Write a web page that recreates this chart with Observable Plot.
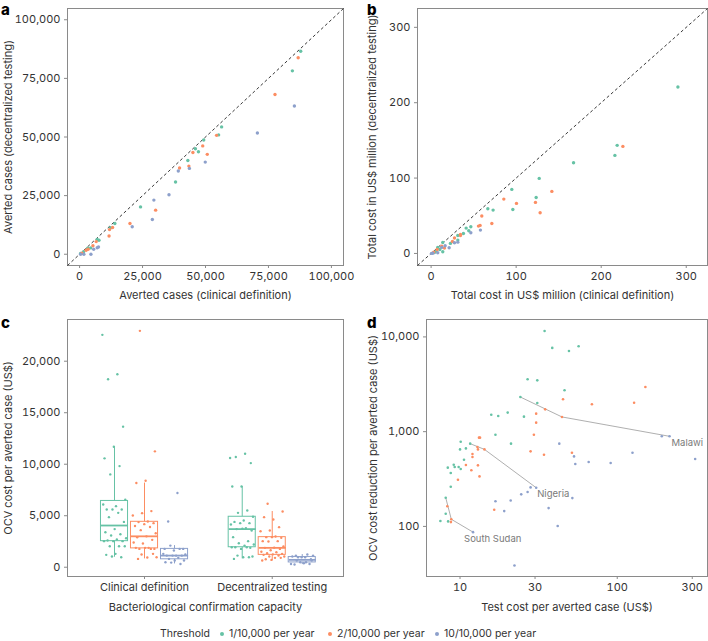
<!DOCTYPE html>
<html><head><meta charset="utf-8">
<script src="https://cdn.jsdelivr.net/npm/d3@7"></script>
<script src="https://cdn.jsdelivr.net/npm/@observablehq/plot@0.6"></script>
<style>
body{margin:0;background:#fff;font-family:Inter,"Noto Sans",sans-serif;}
#fig{position:relative;width:708px;height:641px;overflow:hidden;background:#fff;}
.panel{position:absolute;}
.tag{position:absolute;font-weight:800;font-size:15px;line-height:15px;color:#000;font-family:Inter,sans-serif;}
#legend{position:absolute;left:0;top:628px;width:708px;height:12px;font-size:10.5px;line-height:12px;color:#333;}
#legend span{position:absolute;top:0;white-space:nowrap;}
#legend i{position:absolute;width:4px;height:4px;border-radius:50%;top:4px;}
</style></head>
<body><div id="fig"></div>
<script>
const thresholds = ["1/10,000 per year", "2/10,000 per year", "10/10,000 per year"];
const colors = ["#66c2a5", "#fc8d62", "#8da0cb"];

// ---- Panel a: averted cases (clinical definition vs decentralized testing)
const aClinical1 = [87800,84500,56400,55200,49300,46000,47200,43000,38100,24200,14000,12200,7700,7000,4400,3200,1600,400];
const aDecentral1 = [86600,78200,54300,50900,48700,45000,43700,40000,30800,20200,13100,11300,6000,6300,2700,2600,1100,300];
const aClinical2 = [86800,77600,54400,48900,45000,50700,39700,43400,30200,20000,13100,11900,11700,6600,5300,3400,2600,900];
const aDecentral2 = [83800,68100,50700,46200,43400,42600,36800,37600,18800,13100,11400,10500,7800,5400,3600,2100,1700,400];
const aClinical10 = [85300,70600,49900,39200,43600,35500,29500,28900,20900,7500,7000,5600,4500,1700,400];
const aDecentral10 = [63200,51700,39300,35500,36600,25400,23100,14800,11700,3100,2800,2100,0,0,0];
const aTicks = [0, 25000, 50000, 75000, 100000];
const aDomain = [-4800, 104800];

// ---- Panel b: total cost in US$ million
const bClinical1 = [290.2,218.8,216.1,167.5,127.1,123.5,94.9,96.1,66.7,72.9,46.7,41.2,44.3,38.0,31.4,31.4,22.7,13.7,13.7,10.2,7.8,5.9,3.9];
const bDecentral1 = [220.8,143.4,130.1,120.4,99.6,74.3,85.0,58.4,59.3,57.5,35.4,33.6,30.1,26.5,23.9,17.7,13.3,14.6,2.2,5.3,8.0,3.1,1.3];
const bClinical2 = [225.5,142.0,122.7,128.2,100.4,85.5,59.6,57.6,55.7,71.4,27.5,34.5,34.5,25.1,15.7,12.5,7.1,3.1];
const bDecentral2 = [142.0,82.3,67.7,54.0,66.4,72.1,49.6,37.2,36.3,39.8,20.4,25.2,23.9,15.9,7.1,9.7,5.3,1.8];
const bClinical10 = [58.0,46.7,31.4,27.5,21.2,16.5,12.5,7.8,2.0,0.5];
const bDecentral10 = [31.0,27.4,15.0,14.2,7.5,10.2,8.0,0.9,0.2,0.1];
const bTicks = [0, 100, 200, 300];
const bDomain = [-16, 325];

// ---- Panel c: OCV cost per averted case (US$)
const capacities = ["Clinical definition", "Decentralized testing"];
const cClinical1 = [22560,18740,18250,13650,11700,10570,9820,9010,6550,5930,5610,5610,5610,6090,5280,4860,4400,3700,3400,3200,3080,2820,2700,2590,2530,2530,2530,2040,2040,2040,1300,1200,970,1040];
const cClinical2 = [22950,11250,8400,8170,5450,5250,5020,4440,4380,4280,4180,4000,3900,3600,3300,3000,2900,2660,2300,2400,1880,1780,1780,1880,1880,1780,1230,970,940,810,1300];
const cClinical10 = [7200,4440,1780,1620,1780,1780,2100,1230,1130,1130,1130,1130,1300,910,810,650,650,490,320,450];
const cDecentral1 = [10600,11020,10700,10110,7840,7840,5510,5280,4900,4540,4400,4280,4280,4150,3800,3700,3570,3730,2920,2530,2330,2200,2100,1940,1880,1780,1940,1940,1130,1040,970,810,970];
const cDecentral2 = [6160,5410,4640,4860,3890,3570,3500,2980,2920,2850,2920,2530,2530,2500,2010,1900,1880,1780,1650,1500,1460,1350,1300,1250,1200,1130,1040,1040,910,780,910,710,650];
const cDecentral10 = [970,1130,780,970,1040,1230,970,1130,390,260,320,490,320,490,650,650];
const cTicks = [0, 5000, 10000, 15000, 20000];

// ---- Panel d: test cost vs OCV cost reduction per averted case (US$), log-log
const dTest1 = [34.5,38.6,49.3,56.8,26.9,31.0,46.2,24.2,31.0,15.8,17.5,20.1,25.5,16.8,21.1,10.1,11.6,10.9,10.0,10.6,9.12,9.25,9.8,8.36,10.1,8.73,8.73,8.11,8.11,7.5,8.4];
const dReduction1 = [11560,7660,7110,7960,3570,3480,2740,2320,2010,1510,1465,1590,1440,929,747,783,747,666,650,506,448,423,423,417,403,366,262,201,136,114,113];
const dTest2 = [151,128,69.0,45.2,34.8,30.5,44.5,30.5,29.5,28.1,34.2,51.5,13.2,13.4,12.9,13.0,14.3,12.0,12.0,10.9,11.8,13.0,13.3,9.7,16.5,8.3,8.8,8.75];
const dReduction2 = [2965,2020,1950,2200,1720,1550,1430,1245,929,620,571,600,865,865,689,650,650,581,540,444,391,441,337,311,150,163,119,111];
const dTest10 = [215,192,313,125,90.8,65.8,54.1,53.1,42.8,51.8,30.5,28.1,26.9,24.5,21.0,16.8,19.1,36.6,41.8,12.1,22.2];
const dReduction10 = [893,893,514,600,467,478,455,548,747,199,256,258,231,218,188,184,145,156,101,87,38.7];
const countries = ["Malawi", "Nigeria", "South Sudan"];
const countryTest = [[24.2, 44.5, 215], [11.6, 14.3, 30.5], [8.11, 8.8, 12.1]];
const countryReduction = [[2320, 1430, 893], [747, 650, 256], [201, 119, 87]];
const dXTicks = [10, 30, 100, 300];
const dYTicks = [100, 1000, 10000];
const dXDomain = [6.12, 375];
const dYDomain = [29.6, 15270];

// ---------- helpers
const pairs = (xs, ys, t) => xs.map((x, i) => ({x, y: ys[i], t}));
const comma = d3.format(",");
const style = {fontFamily: "Inter, 'Noto Sans', sans-serif", fontSize: "11px", color: "#333", background: "transparent", overflow: "visible"};
const frameColor = "#8a8a8a";
const axisCommon = {tickSize: 3, tickPadding: 4, stroke: frameColor, fill: "#333", fontSize: 11, labelAnchor: "center", labelArrow: "none"};
const colorScale = {domain: thresholds, range: colors};
const fig = document.getElementById("fig");
function place(el, left, top) {
  const d = document.createElement("div");
  d.className = "panel"; d.style.left = left + "px"; d.style.top = top + "px";
  d.appendChild(el); fig.appendChild(d);
}
function tag(txt, left, top) {
  const d = document.createElement("div");
  d.className = "tag"; d.textContent = txt; d.style.left = left + "px"; d.style.top = top + "px";
  fig.appendChild(d);
}

// ---------- Panel a
const aRows = [...pairs(aClinical1, aDecentral1, thresholds[0]), ...pairs(aClinical2, aDecentral2, thresholds[1]), ...pairs(aClinical10, aDecentral10, thresholds[2])];
place(Plot.plot({
  width: 354, height: 300, marginLeft: 67, marginRight: 11, marginTop: 8, marginBottom: 35,
  style,
  x: {domain: aDomain, axis: null},
  y: {domain: aDomain, axis: null},
  color: colorScale,
  marks: [
    Plot.frame({stroke: frameColor}),
    Plot.axisX({...axisCommon, ticks: aTicks, tickFormat: comma, label: "Averted cases (clinical definition)", labelOffset: 33}),
    Plot.axisY({...axisCommon, ticks: aTicks, tickFormat: comma, label: "Averted cases (decentralized testing)", labelOffset: 63}),
    Plot.link([aDomain], {x1: d => d[0], y1: d => d[0], x2: d => d[1], y2: d => d[1], stroke: "#222", strokeWidth: 0.9, strokeDasharray: "3,2.5"}),
    Plot.dot(aRows, {x: "x", y: "y", fill: "t", r: 1.7})
  ]
}), 0, 0);

// ---------- Panel b
const bRows = [...pairs(bClinical1, bDecentral1, thresholds[0]), ...pairs(bClinical2, bDecentral2, thresholds[1]), ...pairs(bClinical10, bDecentral10, thresholds[2])];
place(Plot.plot({
  width: 354, height: 300, marginLeft: 63, marginRight: 1, marginTop: 8, marginBottom: 35,
  style,
  x: {domain: bDomain, axis: null},
  y: {domain: bDomain, axis: null},
  color: colorScale,
  marks: [
    Plot.frame({stroke: frameColor}),
    Plot.axisX({...axisCommon, ticks: bTicks, tickFormat: comma, label: "Total cost in US$ million (clinical definition)", labelOffset: 33}),
    Plot.axisY({...axisCommon, ticks: bTicks, tickFormat: comma, label: "Total cost in US$ million (decentralized testing)", labelOffset: 49}),
    Plot.link([bDomain], {x1: d => d[0], y1: d => d[0], x2: d => d[1], y2: d => d[1], stroke: "#222", strokeWidth: 0.9, strokeDasharray: "3,2.5"}),
    Plot.dot(bRows, {x: "x", y: "y", fill: "t", r: 1.7})
  ]
}), 354, 0);

// ---------- Panel c
const cSeries = [
  [cClinical1, cClinical2, cClinical10],
  [cDecentral1, cDecentral2, cDecentral10]
];
const groupGap = 1;          // distance between capacity groups (x units)
const boxOffset = 0.235;     // distance between threshold boxes (x units)
const boxHalf = 0.106;       // half box width (x units)
const jitterWidth = 0.19;
const cPoints = [], cBoxes = [];
cSeries.forEach((grp, gi) => grp.forEach((vals, ti) => {
  const center = gi * groupGap + (ti - 1) * boxOffset;
  vals.forEach((v, i) => cPoints.push({x: center + (((i * 0.6180339 + ti * 0.31) % 1) - 0.5) * jitterWidth, y: v, t: thresholds[ti]}));
  const s = vals.slice().sort(d3.ascending);
  const q1 = d3.quantile(s, 0.25), q3 = d3.quantile(s, 0.75), med = d3.quantile(s, 0.5);
  const iqr = q3 - q1;
  const lo = d3.min(s.filter(v => v >= q1 - 1.5 * iqr)), hi = d3.max(s.filter(v => v <= q3 + 1.5 * iqr));
  cBoxes.push({x1: center - boxHalf, x2: center + boxHalf, xc: center, q1, q3, med, lo, hi, t: thresholds[ti]});
}));
place(Plot.plot({
  width: 354, height: 316, marginLeft: 67, marginRight: 11, marginTop: 19, marginBottom: 40,
  style,
  x: {domain: [-0.603, 1.558], axis: null},
  y: {domain: [-900, 24050], axis: null},
  color: colorScale,
  marks: [
    Plot.frame({stroke: frameColor}),
    Plot.axisX({...axisCommon, ticks: [0, groupGap], tickFormat: (d, i) => capacities[i], label: "Bacteriological confirmation capacity", labelOffset: 34}),
    Plot.axisY({...axisCommon, ticks: cTicks, tickFormat: comma, label: "OCV cost per averted case (US$)", labelOffset: 63}),
    Plot.ruleX(cBoxes, {x: "xc", y1: "hi", y2: "q3", stroke: "t", strokeWidth: 1}),
    Plot.ruleX(cBoxes, {x: "xc", y1: "lo", y2: "q1", stroke: "t", strokeWidth: 1}),
    Plot.rect(cBoxes, {x1: "x1", x2: "x2", y1: "q1", y2: "q3", stroke: "t", fill: "white", fillOpacity: 0.3, strokeWidth: 1}),
    Plot.link(cBoxes, {x1: "x1", x2: "x2", y1: "med", y2: "med", stroke: "t", strokeWidth: 1.8}),
    Plot.dot(cPoints, {x: "x", y: "y", fill: "t", r: 1.2})
  ]
}), 0, 300);

// ---------- Panel d
const dRows = [...pairs(dTest1, dReduction1, thresholds[0]), ...pairs(dTest2, dReduction2, thresholds[1]), ...pairs(dTest10, dReduction10, thresholds[2])];
const cLines = countries.flatMap((c, ci) => countryTest[ci].map((x, k) => ({country: c, x, y: countryReduction[ci][k]})));
const cLabels = countries.map((c, ci) => ({country: c, x: countryTest[ci][2], y: countryReduction[ci][2]}));
const labelDx = {"Malawi": 2, "Nigeria": 1, "South Sudan": -9};
place(Plot.plot({
  width: 354, height: 316, marginLeft: 72, marginRight: 1, marginTop: 19, marginBottom: 40,
  style,
  x: {type: "log", domain: dXDomain, axis: null},
  y: {type: "log", domain: dYDomain, axis: null},
  color: colorScale,
  marks: [
    Plot.frame({stroke: frameColor}),
    Plot.axisX({...axisCommon, ticks: dXTicks, tickFormat: comma, label: "Test cost per averted case (US$)", labelOffset: 34}),
    Plot.axisY({...axisCommon, ticks: dYTicks, tickFormat: comma, label: "OCV cost reduction per averted case (US$)", labelOffset: 57}),
    Plot.line(cLines, {x: "x", y: "y", z: "country", stroke: "#9a9a9a", strokeWidth: 0.8}),
    Plot.dot(dRows, {x: "x", y: "y", fill: "t", r: 1.3}),
    ...cLabels.map(l => Plot.text([l], {x: "x", y: "y", text: "country", textAnchor: "start", dx: labelDx[l.country], dy: 6.5, fill: "#7a7a7a", fontSize: 9.5}))
  ]
}), 354, 300);

// ---------- panel tags
tag("a", 1, 2); tag("b", 367, 2); tag("c", 1, 315); tag("d", 367, 315);

// ---------- legend
const lg = document.createElement("div"); lg.id = "legend";
const th = document.createElement("span"); th.textContent = "Threshold"; th.style.left = "160px"; lg.appendChild(th);
const legendX = [222, 330, 437];
thresholds.forEach((t, i) => {
  const dot = document.createElement("i"); dot.style.left = (legendX[i] - 2) + "px"; dot.style.background = colors[i]; lg.appendChild(dot);
  const sp = document.createElement("span"); sp.textContent = t; sp.style.left = (legendX[i] + 7) + "px"; lg.appendChild(sp);
});
fig.appendChild(lg);
</script>
</body></html>
